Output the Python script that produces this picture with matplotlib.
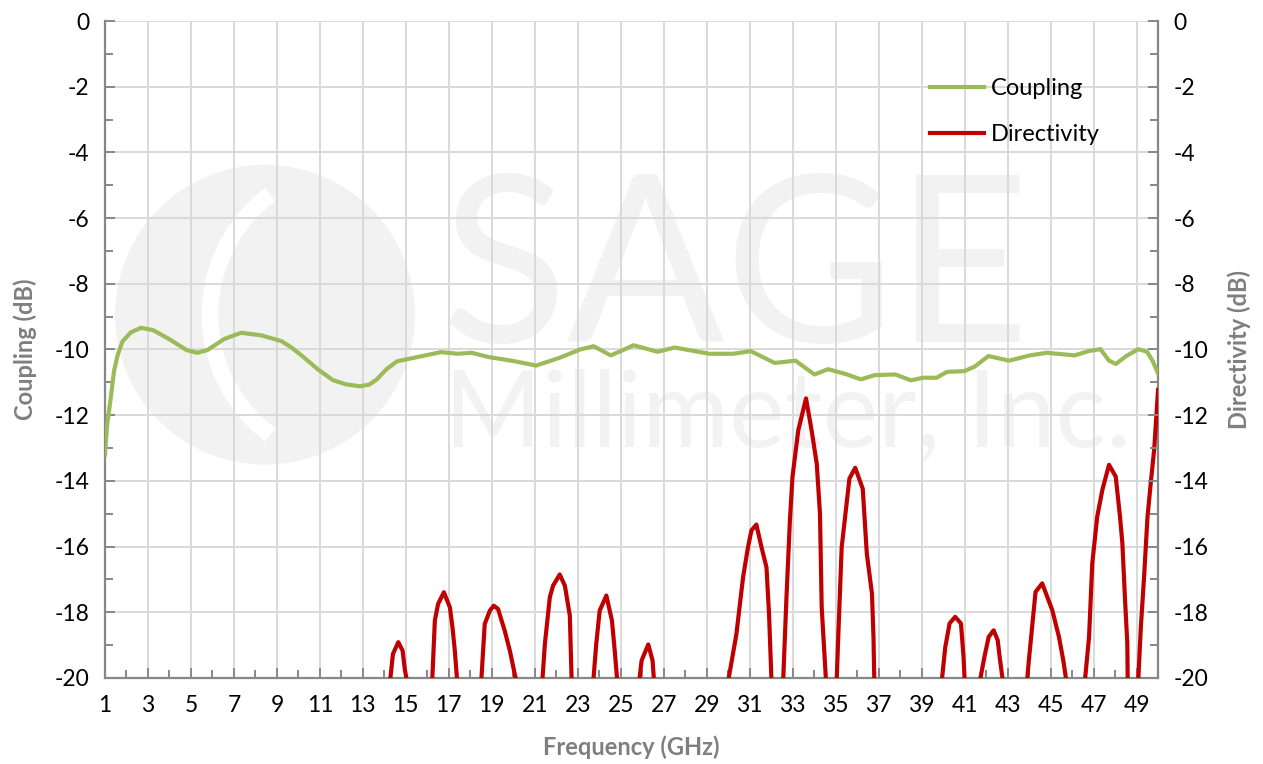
import matplotlib
matplotlib.use('Agg')
import matplotlib.pyplot as plt
import numpy as np
from matplotlib.patches import Ellipse, Arc

plt.rcParams['font.family'] = ['Lato', 'DejaVu Sans']
plt.rcParams['axes.unicode_minus'] = False

nan = np.nan

# coupling curve (GHz, dB)
coup_freq = [1.0, 1.1, 1.27, 1.42, 1.6, 1.82, 2.2, 2.68, 3.24, 4.03, 4.81, 5.29, 5.76, 6.55,
             7.34, 8.28, 9.23, 9.7, 10.18, 10.9, 11.6, 12.2, 12.86, 13.3, 13.65, 14.1, 14.59,
             15.54, 16.64, 17.43, 18.06, 18.85, 20.0, 21.06, 22.16, 23.11, 23.74, 24.53, 25.0,
             25.59, 26.71, 27.51, 29.12, 30.24, 31.04, 31.52, 32.16, 33.13, 34.01, 34.65,
             35.53, 36.17, 36.82, 37.78, 38.5, 39.06, 39.7, 40.18, 40.98, 41.47, 42.11, 43.07,
             44.03, 44.83, 46.12, 46.76, 47.32, 47.72, 48.04, 48.52, 49.08, 49.49, 49.75, 50.0]
coup_db = [-13.2, -12.3, -11.47, -10.66, -10.15, -9.75, -9.48, -9.34, -9.41, -9.7, -10.02,
           -10.1, -10.02, -9.68, -9.49, -9.57, -9.75, -9.95, -10.2, -10.6, -10.93, -11.06,
           -11.12, -11.07, -10.91, -10.6, -10.36, -10.23, -10.08, -10.13, -10.1, -10.23,
           -10.35, -10.49, -10.25, -10.0, -9.9, -10.18, -10.05, -9.87, -10.07, -9.94, -10.13,
           -10.13, -10.05, -10.2, -10.41, -10.34, -10.76, -10.6, -10.76, -10.91, -10.78,
           -10.76, -10.94, -10.86, -10.86, -10.68, -10.66, -10.52, -10.2, -10.34, -10.18,
           -10.1, -10.18, -10.05, -9.99, -10.34, -10.44, -10.2, -9.99, -10.07, -10.35, -10.73]

# directivity lobes, NaN separates the parts that fall below -20 dB
dir_freq = [14.25, 14.4, 14.65, 14.85, 14.95, 15.08, nan,
            16.22, 16.35, 16.5, 16.77, 17.05, 17.17, 17.28, 17.4, nan,
            18.5, 18.67, 18.91, 19.09, 19.29, 19.6, 19.84, 20.17, nan,
            21.34, 21.47, 21.7, 21.85, 22.16, 22.4, 22.63, 22.72, nan,
            23.71, 23.86, 24.02, 24.33, 24.59, 24.72, 24.85, nan,
            25.84, 25.97, 26.28, 26.48, 26.56, nan,
            29.97, 30.38, 30.69, 30.92, 31.08, 31.31, 31.55, 31.78, 31.9, 32.02, nan,
            32.55, 32.71, 32.87, 32.99, 33.26, 33.62, 33.88, 34.12, 34.27, 34.35, 34.56, nan,
            35.04, 35.13, 35.28, 35.49, 35.64, 35.91, 36.26, 36.45, 36.69, 36.76, 36.8, nan,
            39.92, 40.1, 40.3, 40.56, 40.83, 40.95, 41.01, nan,
            41.68, 41.92, 42.12, 42.35, 42.54, 42.63, 42.8, nan,
            43.89, 43.99, 44.22, 44.3, 44.61, 45.08, 45.39, 45.59, 45.76, nan,
            46.58, 46.79, 46.94, 47.17, 47.41, 47.72, 48.03, 48.23, 48.34, 48.45, 48.57, 48.59, nan,
            49.07, 49.2, 49.35, 49.51, 49.66, 49.82, 50.0]
dir_db = [-20.2, -19.27, -18.91, -19.17, -19.73, -20.2, nan,
          -20.2, -18.25, -17.75, -17.39, -17.85, -18.46, -19.17, -20.2, nan,
          -20.2, -18.36, -17.95, -17.8, -17.9, -18.56, -19.17, -20.2, nan,
          -20.2, -18.96, -17.54, -17.19, -16.85, -17.19, -18.1, -20.2, nan,
          -20.2, -18.96, -17.95, -17.49, -18.25, -19.17, -20.2, nan,
          -20.2, -19.47, -18.98, -19.47, -20.2, nan,
          -20.2, -18.67, -16.94, -16.02, -15.51, -15.33, -16.02, -16.63, -18.06, -20.2, nan,
          -20.2, -17.55, -15.21, -13.88, -12.46, -11.49, -12.46, -13.48, -15.0, -17.85, -20.2, nan,
          -20.2, -18.57, -16.02, -14.8, -13.93, -13.6, -14.24, -16.22, -17.44, -18.77, -20.2, nan,
          -20.2, -19.06, -18.34, -18.14, -18.34, -19.36, -20.2, nan,
          -20.2, -19.36, -18.75, -18.55, -18.85, -19.36, -20.2, nan,
          -20.2, -19.46, -17.94, -17.38, -17.12, -17.94, -18.75, -19.46, -20.2, nan,
          -20.2, -18.75, -16.51, -15.09, -14.27, -13.51, -13.87, -15.09, -15.9, -17.43, -18.95, -20.2, nan,
          -20.2, -18.45, -16.92, -15.09, -14.07, -13.05, -11.23]

x_ticks = list(range(1, 50, 2))
y_ticks = list(range(-20, 1, 2))

GRAY = '#878787'
LABEL = '#7f7f7f'

fig = plt.figure(figsize=(12.63, 7.64), dpi=100)
ax = fig.add_axes([0.0831, 0.1126, 0.8338, 0.8599])

# watermark (axes box is ~1053 x 657 px, so scale to keep the logo round)
wm = '#f2f2f2'
aw, ah = 1053.0, 657.0
r = 150.0
ax.add_patch(Ellipse((0.152, 0.553), 2 * r / aw, 2 * r / ah, transform=ax.transAxes,
                     color=wm, zorder=0.1, lw=0))
ax.add_patch(Arc((0.152 + 95 / aw, 0.553), 2 * 150 / aw, 2 * 150 / ah, theta1=115,
                 theta2=245, transform=ax.transAxes, color='white', lw=12, zorder=0.15))
ax.text(0.318, 0.512, 'SAGE', transform=ax.transAxes, fontsize=168, color=wm,
        fontweight='normal', va='baseline', ha='left', zorder=0.1)
ax.text(0.322, 0.352, 'Millimeter, Inc.', transform=ax.transAxes, fontsize=76, color=wm,
        fontweight='normal', va='baseline', ha='left', zorder=0.1)

ax.plot(coup_freq, coup_db, color='#9bbb59', lw=3.0, label='Coupling', zorder=3)
ax.plot(dir_freq, dir_db, color='#c00000', lw=3.0, label='Directivity', zorder=3)

ax.set_xlim(1, 50)
ax.set_ylim(-20, 0)
ax.set_xticks(x_ticks)
ax.set_xticks(range(2, 51, 2), minor=True)
ax.set_yticks(y_ticks)
ax.set_yticks(range(-19, 0, 2), minor=True)
ax.grid(True, which='major', color='#d9d9d9', lw=1.4)
ax.set_axisbelow(True)

ax.tick_params(which='both', direction='in', color=GRAY, width=1.4, labelsize=16.5,
               labelcolor='black')
ax.tick_params(which='major', length=7)
ax.tick_params(which='minor', length=6)
ax.tick_params(axis='x', pad=12)
ax.tick_params(axis='y', pad=11)

for s in ['left', 'right', 'bottom']:
    ax.spines[s].set_color(GRAY)
    ax.spines[s].set_linewidth(1.6)
ax.spines['top'].set_visible(False)

ax.set_xlabel('Frequency (GHz)', fontsize=17, fontweight='bold', color=LABEL, labelpad=14)
ax.set_ylabel('Coupling (dB)', fontsize=17, fontweight='bold', color=LABEL, labelpad=13)

ax2 = ax.twinx()
ax2.set_ylim(-20, 0)
ax2.set_yticks(y_ticks)
ax2.set_yticks(range(-19, 0, 2), minor=True)
ax2.tick_params(which='both', direction='in', color=GRAY, width=1.4, labelsize=16.5, pad=11)
ax2.tick_params(which='major', length=7)
ax2.tick_params(which='minor', length=6)
for s in ax2.spines.values():
    s.set_visible(False)
ax2.set_ylabel('Directivity (dB)', fontsize=17, fontweight='bold', color=LABEL, labelpad=14)

leg = ax.legend(loc='upper right', bbox_to_anchor=(0.965, 0.945), frameon=False, fontsize=17,
                handlelength=2.3, handletextpad=0.3, labelspacing=1.05)

fig.savefig('out.png', dpi=100)
